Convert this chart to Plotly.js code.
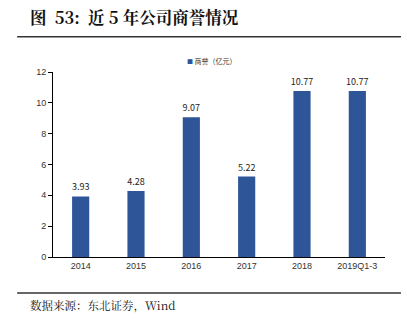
<!DOCTYPE html>
<html><head><meta charset="utf-8">
<script src="https://cdn.plot.ly/plotly-3.0.1.min.js"></script>
<style>html,body{margin:0;padding:0;background:#fff;}#c{width:407px;height:323px;}</style>
</head><body><div id="c"></div>
<script>
const categories = ['2014','2015','2016','2017','2018','2019Q1-3'];
const goodwill = [3.93, 4.28, 9.07, 5.22, 10.77, 10.77];
const yTicks = [0,2,4,6,8,10,12];
const seriesName = '商誉（亿元）';
const barColor = '#2E5597';

const trace = {
  type: 'bar', x: categories, y: goodwill, name: seriesName,
  marker: {color: barColor},
  text: goodwill.map(v => v.toFixed(2)), textposition: 'outside',
  constraintext: 'none',
  textfont: {family: 'Noto Sans CJK SC, sans-serif', size: 9, color: '#222'},
  cliponaxis: false
};
const layout = {
  width: 407, height: 323,
  margin: {l: 53, r: 22, t: 72, b: 66},
  paper_bgcolor: '#fff', plot_bgcolor: '#fff',
  bargap: 0.69,
  showlegend: false,
  xaxis: {type: 'category', showline: true, linecolor: '#000', linewidth: 1, ticks: '', showgrid: false,
    tickfont: {family: 'Liberation Sans, Arial, sans-serif', size: 9, color: '#333'}},
  yaxis: {range: [0, 12], tickvals: yTicks, showline: true, linecolor: '#000', linewidth: 1,
    ticks: 'outside', ticklen: 4, tickcolor: '#000', showgrid: false, zeroline: false,
    tickfont: {family: 'Liberation Sans, Arial, sans-serif', size: 9, color: '#333'}},
  annotations: [
    {xref: 'paper', yref: 'paper', x: -0.075, y: 1.295, xanchor: 'left', yanchor: 'middle',
      text: '<b>图  53:  近 5 年公司商誉情况</b>', showarrow: false,
      font: {family: 'Noto Serif CJK SC, Noto Sans CJK SC, serif', size: 16.5, color: '#111'}},
    {xref: 'paper', yref: 'paper', x: 0.48, y: 1.062, xanchor: 'center', yanchor: 'middle',
      text: '<span style="color:' + barColor + ';font-size:6px">■</span> ' + seriesName, showarrow: false,
      font: {family: 'Noto Sans CJK SC, sans-serif', size: 7, color: '#333'}},
    {xref: 'paper', yref: 'paper', x: -0.075, y: -0.26, xanchor: 'left', yanchor: 'middle',
      text: '数据来源：东北证券，Wind', showarrow: false,
      font: {family: 'Noto Serif CJK SC, Noto Sans CJK SC, serif', size: 11.5, color: '#111'}}
  ],
  shapes: [
    {type: 'line', xref: 'paper', yref: 'paper', x0: -0.108, x1: 1.048, y0: 1.19, y1: 1.19,
      line: {color: '#333', width: 1.5}},
    {type: 'line', xref: 'paper', yref: 'paper', x0: -0.108, x1: 1.048, y0: -0.195, y1: -0.195,
      line: {color: '#333', width: 1.5}}
  ]
};
Plotly.newPlot('c', [trace], layout, {displayModeBar: false, staticPlot: true});
</script></body></html>
